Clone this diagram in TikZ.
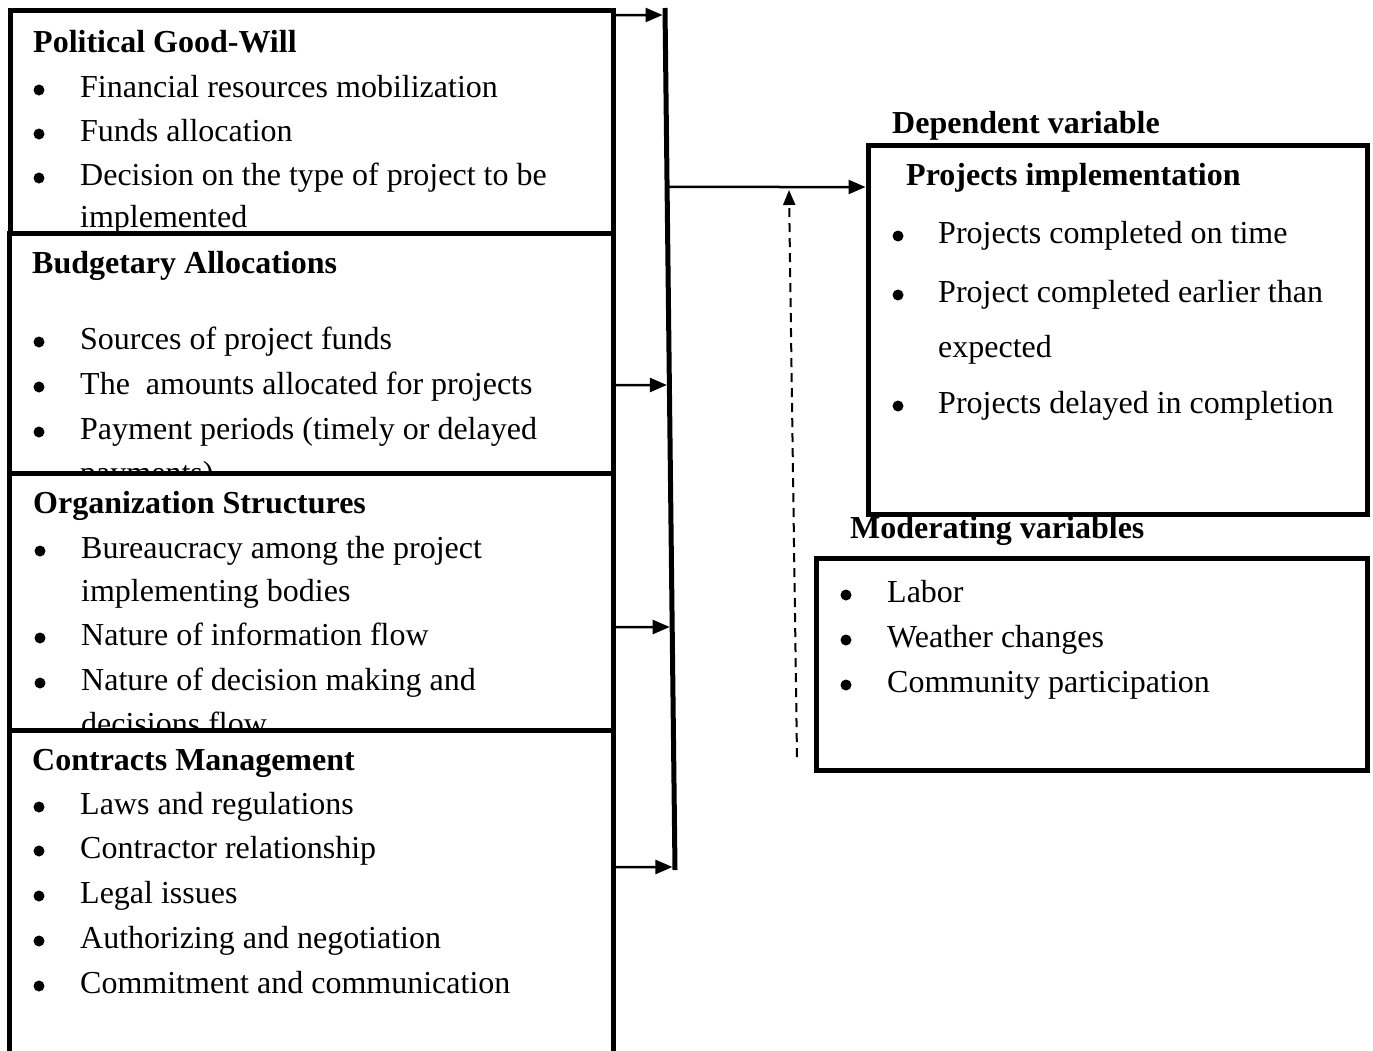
\documentclass[tikz,border=0pt]{standalone}
\usepackage{fontspec}
\setmainfont{Liberation Serif}
\usetikzlibrary{arrows.meta,calc}
\tikzset{
  box/.style={draw,line width=5pt,fill=white,anchor=north west,inner sep=0pt,outer sep=0pt},
  head/.style={anchor=base west,inner sep=0pt,font=\fontsize{32}{38}\selectfont\bfseries},
  item/.style={anchor=base west,inner sep=0pt},
  link/.style={-{Triangle[length=17pt,width=14pt]},line width=2.5pt,shorten >=2.5pt},
  dlink/.style={-{Triangle[length=15pt,width=12pt]},line width=2pt,dash pattern=on 9pt off 6pt},
}
\begin{document}
\begin{tikzpicture}[x=1pt,y=-1pt,font=\fontsize{32}{38}\selectfont]
\useasboundingbox (0,0) rectangle (1373,1050);
\clip (0,0) rectangle (1373,1050);
% independent variables
\node[box,minimum width=603pt,minimum height=223pt] (pgw) at (10,10) {};
\node[head] (pgwhead) at (33,52) {Political Good-Will};
\foreach \y/\t [count=\i] in {97/Financial resources mobilization,141/Funds allocation,
    185/Decision on the type of project to be,227/implemented}
  {\node[item] (pgw\i) at (80,\y) {\t};}
\foreach \y in {97,141,185}{\fill (39,\y-7) circle (5.5pt);}

\node[box,minimum width=604pt,minimum height=240pt] (bud) at (9,233) {};
\node[head] (budhead) at (32,273) {Budgetary Allocations};
\foreach \y/\t [count=\i] in {349/Sources of project funds,394/The~ amounts allocated for projects,
    439/Payment periods (timely or delayed,483/payments)}
  {\node[item] (bud\i) at (80,\y) {\t};}
\foreach \y in {349,394,439}{\fill (39,\y-7) circle (5.5pt);}

\node[box,minimum width=604pt,minimum height=257pt] (org) at (9,473) {};
\node[head] (orghead) at (33,513) {Organization Structures};
\foreach \y/\t [count=\i] in {558/Bureaucracy among the project,601/implementing bodies,
    645/Nature of information flow,690/Nature of decision making and,734/decisions flow}
  {\node[item] (org\i) at (81,\y) {\t};}
\foreach \y in {558,645,690}{\fill (40,\y-7) circle (5.5pt);}

\node[box,minimum width=604pt,minimum height=340pt] (con) at (9,730) {};
\node[head] (conhead) at (32,770) {Contracts Management};
\foreach \y/\t [count=\i] in {814/Laws and regulations,858/Contractor relationship,903/Legal issues,
    948/Authorizing and negotiation,993/Commitment and communication}
  {\node[item] (con\i) at (80,\y) {\t};}
\foreach \y in {814,858,903,948,993}{\fill (39,\y-7) circle (5.5pt);}

\coordinate (bartop) at (665,8);
\coordinate (barbot) at (675,870);
\draw[line width=5pt] (bartop) -- (barbot);
\foreach \b/\y in {pgw/15,bud/385,org/627,con/867}
  {\draw[link] (\b.east |- 0,\y) -- ($(bartop)!{(\y-8)/862}!(barbot)$);}

% dependent variable
\node[head] (dvlabel) at (892,133) {Dependent variable};
\node[box,minimum width=499pt,minimum height=369pt] (dv) at (868,145) {};
\node[head] (dvhead) at (906,185) {Projects implementation};
\foreach \y/\t [count=\i] in {243/Projects completed on time,302/Project completed earlier than,
    357/expected,413/Projects delayed in completion}
  {\node[item] (dv\i) at (938,\y) {\t};}
\foreach \y in {243,302,413}{\fill (898,\y-7) circle (5.5pt);}
\draw[link] ($(bartop)!{(187-8)/862}!(barbot)$) -- (dv.west |- 0,187);

% moderating variables
\node[head] (mvlabel) at (850,538) {Moderating variables};
\node[box,minimum width=551pt,minimum height=212pt] (mv) at (816,558) {};
\foreach \y/\t [count=\i] in {602/Labor,647/Weather changes,692/Community participation}
  {\node[item] (mv\i) at (887,\y) {\t};}
\foreach \y in {602,647,692}{\fill (846,\y-7) circle (5.5pt);}
\coordinate (mvfoot) at (797,757);
\coordinate (mvtip) at (789,190);
\draw[dlink] (mvfoot) -- (mvtip);
\end{tikzpicture}
\end{document}
